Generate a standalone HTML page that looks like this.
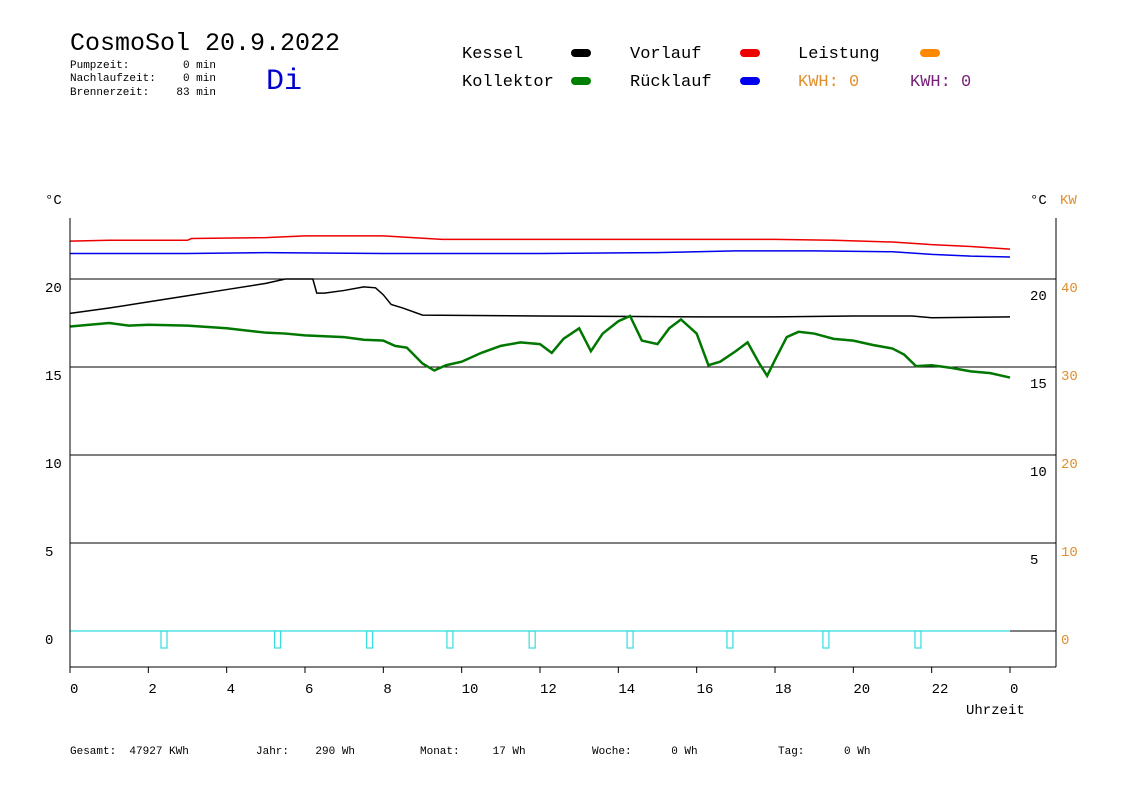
<!DOCTYPE html>
<html><head><meta charset="utf-8">
<style>
body{margin:0;background:#fff;width:1148px;height:812px;overflow:hidden}
svg{display:block;font-family:"Liberation Mono","DejaVu Sans Mono",monospace}
text{white-space:pre}
</style></head>
<body>
<svg id="chart" width="1148" height="812" viewBox="0 0 1148 812">
<g>
<text x="70" y="50" font-size="25" fill="#000">CosmoSol 20.9.2022</text>
<text x="70" y="68" font-size="11">Pumpzeit:</text>
<text x="216" y="68" font-size="11" text-anchor="end">0 min</text>
<text x="70" y="81" font-size="11">Nachlaufzeit:</text>
<text x="216" y="81" font-size="11" text-anchor="end">0 min</text>
<text x="70" y="95" font-size="11">Brennerzeit:</text>
<text x="216" y="95" font-size="11" text-anchor="end">83 min</text>
<text x="266" y="89" font-size="30" fill="#0000cc">Di</text>
</g>
<g font-size="17">
<text x="462" y="58">Kessel</text>
<rect x="571" y="49" width="20" height="8" rx="4" fill="#000"/>
<text x="630" y="58">Vorlauf</text>
<rect x="740" y="49" width="20" height="8" rx="4" fill="#ee0000"/>
<text x="798" y="58">Leistung</text>
<rect x="920" y="49" width="20" height="8" rx="4" fill="#ff8800"/>
<text x="462" y="86">Kollektor</text>
<rect x="571" y="77" width="20" height="8" rx="4" fill="#008000"/>
<text x="630" y="86">Rücklauf</text>
<rect x="740" y="77" width="20" height="8" rx="4" fill="#0000ee"/>
<text x="798" y="86" fill="#e09030">KWH: 0</text>
<text x="910" y="86" fill="#772277">KWH: 0</text>
</g>
<text x="45" y="204" font-size="14">°C</text>
<text x="1030" y="204" font-size="14">°C</text>
<text x="1060" y="204" font-size="14" fill="#e09030">KW</text>
<g id="grid"></g>
<g id="series"></g>
<g id="axes"></g>
<text x="966" y="714" font-size="14">Uhrzeit</text>
<g font-size="11">
<text x="70" y="754" xml:space="preserve">Gesamt:  47927 KWh</text>
<text x="256" y="754" xml:space="preserve">Jahr:    290 Wh</text>
<text x="420" y="754" xml:space="preserve">Monat:     17 Wh</text>
<text x="592" y="754" xml:space="preserve">Woche:      0 Wh</text>
<text x="778" y="754" xml:space="preserve">Tag:      0 Wh</text>
</g>
</svg>
<script>
const gridTemps=[0,5,10,15,20];
const leftTicks=["0","5","10","15","20"];
const rightKw=["0","10","20","30","40"];
const xTickLabels=["0","2","4","6","8","10","12","14","16","18","20","22","0"];
const vorlaufH=[0,1,3,3.1,5,6,8,9.5,13,16,18,19.5,21,22,23,24];
const vorlaufT=[22.15,22.2,22.2,22.3,22.35,22.45,22.45,22.25,22.25,22.25,22.25,22.2,22.1,21.95,21.85,21.7];
const ruecklaufH=[0,3,5,8,12,15,17,19,21,22,23,24];
const ruecklaufT=[21.45,21.45,21.5,21.45,21.45,21.5,21.6,21.6,21.55,21.4,21.3,21.25];
const kesselH=[0,1,2,3,4,5,5.5,6.2,6.3,6.5,7,7.5,7.8,8,8.2,8.5,9,12,16,18,20,21.5,22,24];
const kesselT=[18.05,18.35,18.7,19.05,19.4,19.75,20,20,19.2,19.2,19.35,19.55,19.5,19.1,18.55,18.35,17.95,17.9,17.85,17.85,17.9,17.9,17.8,17.85];
const kollektorH=[0,0.5,1,1.5,2,3,4,5,5.5,6,7,7.5,8,8.3,8.6,9,9.3,9.6,10,10.5,11,11.5,12,12.3,12.6,13,13.3,13.6,14,14.3,14.6,15,15.3,15.6,16,16.3,16.6,17,17.3,17.6,17.8,18,18.3,18.6,19,19.5,20,20.5,21,21.3,21.6,22,22.5,23,23.5,24];
const kollektorT=[17.3,17.4,17.5,17.35,17.4,17.35,17.2,16.95,16.9,16.8,16.7,16.55,16.5,16.2,16.1,15.2,14.8,15.1,15.3,15.8,16.2,16.4,16.3,15.8,16.6,17.2,15.9,16.9,17.6,17.9,16.5,16.3,17.2,17.7,16.9,15.1,15.3,15.9,16.4,15.2,14.5,15.4,16.7,17.0,16.9,16.6,16.5,16.25,16.05,15.7,15.05,15.1,14.95,14.75,14.65,14.4];
const pulseH=[2.4,5.3,7.65,9.7,11.8,14.3,16.85,19.3,21.65];

const NS="http://www.w3.org/2000/svg";
const X0=70,X24=1010,XR=1056;
const xs=h=>X0+(X24-X0)*h/24;
const ys=t=>631-17.6*t;
function mk(tag,attrs,parent){const e=document.createElementNS(NS,tag);for(const k in attrs)e.setAttribute(k,attrs[k]);parent.appendChild(e);return e;}
const grid=document.getElementById('grid'),series=document.getElementById('series'),axes=document.getElementById('axes');
gridTemps.forEach((t,i)=>{
 if(t>0){const l=mk('line',{x1:X0,x2:XR,y1:ys(t),y2:ys(t),stroke:'#000','stroke-width':1},grid);
 
 }
 const a=mk('text',{x:45,y:ys(t)+13,'font-size':14},axes);a.textContent=leftTicks[i];
 
 
 const b=mk('text',{x:1030,y:ys(t)+21,'font-size':14},axes);b.textContent=t===0?"":leftTicks[i];
 
 
 const c=mk('text',{x:1061,y:ys(t)+13,'font-size':14,fill:'#e09030'},axes);c.textContent=rightKw[i];
 
 
});
function line(H,T,color,name,w){
 const p=mk('polyline',{points:H.map((h,i)=>xs(h)+','+ys(T[i])).join(' '),fill:'none',stroke:color,'stroke-width':w},series);
 
 
}
line(vorlaufH,vorlaufT,'#ee0000','vorlauf-line',1.5);
line(ruecklaufH,ruecklaufT,'#0000ee','ruecklauf-line',1.5);
line(kesselH,kesselT,'#000','kessel-line',1.5);
line(kollektorH,kollektorT,'#007700','kollektor-line',2.5);
const cy=mk('line',{x1:X0,x2:X24,y1:ys(0),y2:ys(0),stroke:'#33dddd','stroke-width':1.2},series);


pulseH.forEach(h=>{
 const r=mk('rect',{x:xs(h)-3,y:ys(0),width:6,height:17,fill:'none',stroke:'#33dddd','stroke-width':1.2},series);
 
 
});
const bl=mk('line',{x1:X24,x2:XR,y1:ys(0),y2:ys(0),stroke:'#000'},series);


const la=mk('line',{x1:X0,x2:X0,y1:218,y2:667,stroke:'#000'},axes);


const ra=mk('line',{x1:XR,x2:XR,y1:218,y2:667,stroke:'#000'},axes);


const xa=mk('line',{x1:X0,x2:XR,y1:667,y2:667,stroke:'#000'},axes);


xTickLabels.forEach((lab,i)=>{
 const x=xs(i*2);
 const tk=mk('line',{x1:x,x2:x,y1:667,y2:673,stroke:'#000'},axes);
 
 
 const t=mk('text',{x:x,y:693,'font-size':14},axes);t.textContent=lab;
 
 
});
</script>
</body></html>
